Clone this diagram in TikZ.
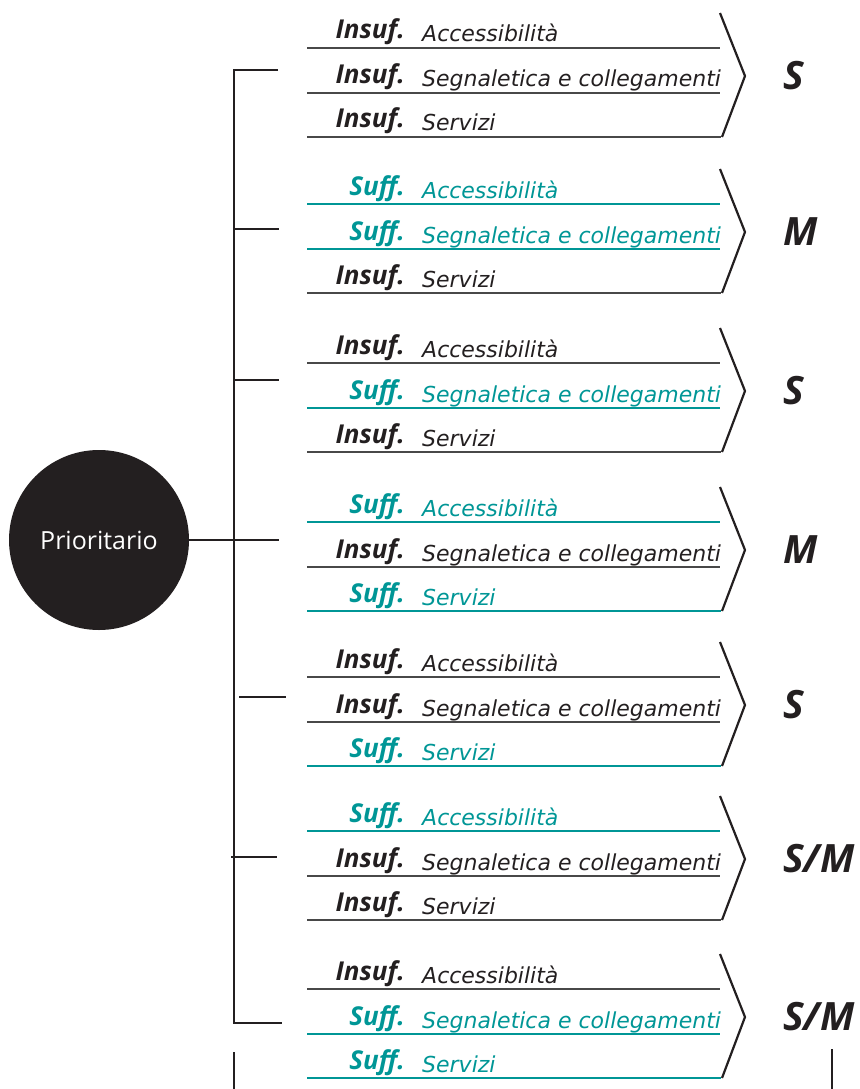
\documentclass[tikz,border=0pt]{standalone}
\usepackage{fontspec}
\usepackage{tikz}
\usetikzlibrary{positioning,calc}
\setmainfont{DejaVu Sans}
\newfontfamily\opensans{Open Sans}
\definecolor{ink}{RGB}{35,31,32}
\definecolor{rulegray}{RGB}{72,72,72}
\definecolor{aqua}{RGB}{0,150,150}
\newcommand{\wordI}{Insuf.}
\newcommand{\wordS}{Suff.}
\tikzset{
  hub/.style={circle,fill=ink,minimum size=180pt,inner sep=0pt,text=white,
              font=\opensans\fontsize{25}{25}\selectfont},
  stat/.style={anchor=base east,inner sep=0pt,
              font=\opensans\bfseries\itshape\fontsize{26}{26}\selectfont},
  statI/.style={stat,text=ink},
  statS/.style={stat,text=aqua},
  item/.style={anchor=base west,inner sep=0pt,font=\itshape\fontsize{22}{22}\selectfont},
  itemI/.style={item,text=ink},
  itemS/.style={item,text=aqua},
  ruleI/.style={draw=rulegray,line width=1.4pt},
  ruleS/.style={draw=aqua,line width=1.4pt},
  grade/.style={inner sep=0pt,text=ink,
              font=\opensans\bfseries\itshape\fontsize{39}{39}\selectfont},
  wire/.style={draw=ink,line width=2.8pt},
  chev/.style={draw=ink,line width=2.2pt},
  cut/.style={draw=ink,line width=1.5pt},
}

\begin{document}
\begin{tikzpicture}[x=1pt,y=-1pt]
  \useasboundingbox (0,0) rectangle (859,1089);

  % centre
  \node[hub] (prio) at (99,540) {Prioritario};
  \coordinate (hubend) at (279,540);
  \draw[wire,line width=2.2pt] (prio.east) -- (hubend);

  % trunk, first and last branch
  \coordinate (top) at (234,70);
  \coordinate (topend) at (278,70);
  \coordinate (corner) at (234,1023);
  \coordinate (cornerend) at (282,1023);
  \draw[wire,line join=miter] (topend) -- (top) -- (corner) -- (cornerend);

  % other branches
  \foreach \g/\yt/\xs/\xe in {2/229/234/279, 3/380/234/279, 4/540/234/279,
                              5/697/239/286, 6/857/231/277}{
    \coordinate (bs\g) at (\xs,\yt);
    \coordinate (be\g) at (\xe,\yt);
    \draw[wire] (bs\g) -- (be\g);
  }

  % groups
  \foreach \g/\yb/\a/\b/\c/\grd in {1/137/I/I/I/S, 2/293/S/S/I/M, 3/452/I/S/I/S,
                                    4/611/S/I/S/M, 5/766/I/I/S/S, 6/920/S/I/I/{S/M},
                                    7/1078/I/S/S/{S/M}}{
    \node[stat\a] (s\g a) at (405,\yb-98) {\csname word\a\endcsname};
    \node[item\a] (t\g a) at (422,\yb-95) {Accessibilità};
    \draw[rule\a] (307,\yb-89) -- (720,\yb-89);
    \node[stat\b] (s\g b) at (405,\yb-53) {\csname word\b\endcsname};
    \node[item\b] (t\g b) at (422,\yb-50) {Segnaletica e collegamenti};
    \draw[rule\b] (307,\yb-44) -- (720,\yb-44);
    \node[stat\c] (s\g c) at (405,\yb-9) {\csname word\c\endcsname};
    \node[item\c] (t\g c) at (422,\yb-6) {Servizi};
    \draw[rule\c,line width=2.8pt] (307,\yb) -- (721,\yb);
    \draw[chev] (720,\yb-124) -- (745,\yb-61) coordinate (tip\g) -- (722,\yb);
    \node[grade,right=38pt of tip\g] (grade\g) {\grd};
  }

  % page cut
  \coordinate (cutl) at (234,1052);
  \coordinate (cutr) at (832,1049);
  \draw[cut] (cutl) -- (234,1089);
  \draw[cut] (cutr) -- (832,1089);
\end{tikzpicture}
\end{document}
